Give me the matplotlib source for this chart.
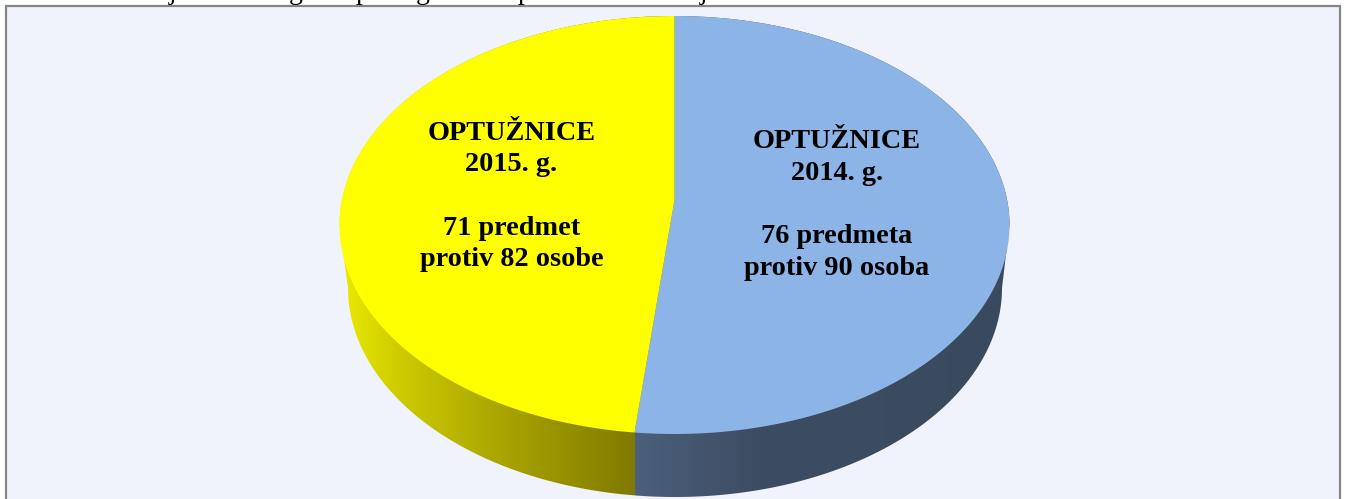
import numpy as np
import matplotlib
matplotlib.use("Agg")
import matplotlib.pyplot as plt
from matplotlib.patches import Polygon, Rectangle

# charges per year, slices go clockwise from 12 o'clock
values = [76, 71]
colors = ["#8db4e6", "#ffff00"]
labels = ["OPTUŽNICE\n2014. g.\n\n76 predmeta\nprotiv 90 osoba",
          "OPTUŽNICE\n2015. g.\n\n71 predmet\nprotiv 82 osobe"]
label_pos = [(837, 205), (511.5, 196.5)]
# bits of the cropped line above the frame
cut_letters = ["j", "g", "p", "g", "p", "j"]
cut_letter_x = [173, 296, 363, 423, 525, 704]

# gradient stops of the pie side, x pixel and colour
yellow_stops = [(340, (235, 235, 0)), (400, (205, 203, 0)), (500, (170, 165, 0)), (635, (128, 122, 0))]
blue_stops = [(635, (76, 96, 124)), (760, (60, 76, 98)), (1010, (58, 74, 94))]

cx, cy, rx, ry = 674.5, 225.0, 335.0, 209.0
base_cx, base_cy, base_rx, base_ry = 675.0, 288.0, 327.0, 209.0
hub_y = 200.0


def rim_angle(theta):
    # the hub sits above the ellipse centre, so shoot a ray from it to the rim
    dx, dy = rx * np.sin(theta), -ry * np.cos(theta)
    oy = hub_y - cy
    a = (dx / rx) ** 2 + (dy / ry) ** 2
    b = 2 * oy * dy / ry ** 2
    c = (oy / ry) ** 2 - 1
    t = (-b + np.sqrt(b * b - 4 * a * c)) / (2 * a)
    return np.arctan2(t * dx / rx, -(oy + t * dy) / ry) % (2 * np.pi)


def rim(phi):
    return np.column_stack([cx + rx * np.sin(phi), cy - ry * np.cos(phi)])


def side_image(ax, stops, x0, x1, clip):
    xs = np.arange(x0, x1 + 1)
    px = [s[0] for s in stops]
    img = np.stack([np.interp(xs, px, [s[1][i] for s in stops]) for i in range(3)], axis=-1)
    img = img[np.newaxis, :, :].astype(np.uint8)
    im = ax.imshow(img, extent=[x0, x1, 499, 0], aspect="auto", interpolation="bilinear", zorder=2)
    im.set_clip_path(clip)


fig = plt.figure(figsize=(13.46, 4.99), dpi=100)
ax = fig.add_axes([0, 0, 1, 1])
ax.axis("off")

ax.add_patch(Rectangle((6, 6), 1334, 510, facecolor="#f0f3fb", edgecolor="#868686", linewidth=1.6, zorder=1))

# side wall
phi = np.linspace(np.pi / 2, 3 * np.pi / 2, 300)
base = np.column_stack([base_cx + base_rx * np.sin(phi), base_cy - base_ry * np.cos(phi)])
top_half = rim(np.linspace(3 * np.pi / 2, 5 * np.pi / 2, 300))
wall = Polygon(np.vstack([base, top_half]), closed=True, facecolor="none", edgecolor="none", transform=ax.transData)
ax.add_patch(wall)

split = rim_angle(2 * np.pi * values[0] / sum(values))
split_x = int(round(rim(np.array([split]))[0, 0]))
side_image(ax, yellow_stops, 330, split_x, wall)
side_image(ax, blue_stops, split_x, 1020, wall)

# top face
hub = np.array([[cx, hub_y]])
blue_arc = rim(np.linspace(0, split, 300))
yellow_arc = rim(np.linspace(split, 2 * np.pi, 300))
ax.add_patch(Polygon(np.vstack([hub, blue_arc]), closed=True, facecolor=colors[0], edgecolor="none", zorder=3))
ax.add_patch(Polygon(np.vstack([hub, yellow_arc]), closed=True, facecolor=colors[1], edgecolor="none", zorder=3))

for text, (tx, ty) in zip(labels, label_pos):
    ax.text(tx, ty, text, ha="center", va="center", family="Liberation Serif", fontweight="bold",
            fontsize=20.3, linespacing=1.35, color="black", zorder=4)

for letter, lx in zip(cut_letters, cut_letter_x):
    ax.text(lx, -1, letter, ha="center", va="baseline", family="Liberation Serif", fontsize=20,
            color="black", clip_on=False, zorder=4)

ax.set_xlim(0, 1346)
ax.set_ylim(499, 0)
fig.savefig("out.png", dpi=100)
